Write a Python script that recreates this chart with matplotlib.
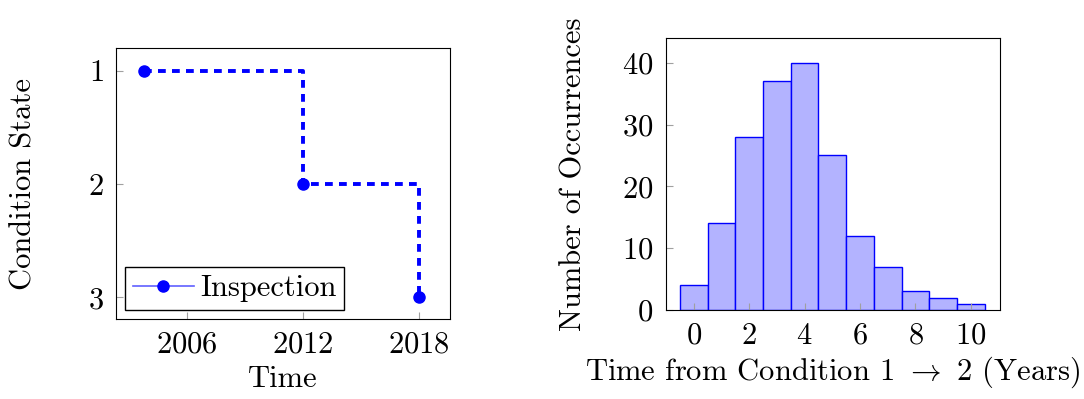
import matplotlib
matplotlib.use("Agg")
import matplotlib.pyplot as plt
from matplotlib.lines import Line2D

plt.rcParams["font.family"] = ["cmr10", "DejaVu Serif"]
plt.rcParams["mathtext.fontset"] = "cm"
plt.rcParams["axes.formatter.use_mathtext"] = True
plt.rcParams["font.size"] = 22

# ---- data ----
inspect_years = [2003.8, 2012, 2018]
inspect_states = [1, 2, 3]
year_ticks = [2006, 2012, 2018]
state_ticks = [1, 2, 3]

hist_bins = [0, 1, 2, 3, 4, 5, 6, 7, 8, 9, 10]
hist_counts = [4, 14, 28, 37, 40, 25, 12, 7, 3, 2, 1]

BLUE = "#0000ff"
TICK_GREY = "#a0a0a0"

fig = plt.figure(figsize=(10.84, 3.99), dpi=100)
W, H = 1084, 399
ax1 = fig.add_axes([116 / W, 1 - 319 / H, (450 - 116) / W, (319 - 48) / H])
ax2 = fig.add_axes([666 / W, 1 - 310 / H, (1000 - 666) / W, (310 - 38) / H])

# ---- left: inspection steps ----
ax1.plot(inspect_years, inspect_states, drawstyle="steps-post", color=BLUE,
         linestyle=(0, (2.0, 1.6)), linewidth=2.8)
ax1.plot(inspect_years, inspect_states, linestyle="none", marker="o",
         markersize=8, color=BLUE)
ax1.set_xlim(2002.33, 2019.6)
ax1.set_ylim(3.19, 0.8)
ax1.set_xticks(year_ticks)
ax1.set_yticks(state_ticks)
ax1.set_xlabel("Time", labelpad=5)
ax1.set_ylabel("Condition State", labelpad=36)
handle = Line2D([], [], color="#6060ff", linewidth=1.2, marker="o",
                markersize=8, markerfacecolor=BLUE, markeredgecolor=BLUE)
ax1.legend([handle], ["Inspection"], loc="lower left", fancybox=False,
           framealpha=1, edgecolor="black", borderaxespad=0.3,
           handlelength=2.0, handletextpad=0.2, borderpad=0.25)

# ---- right: histogram ----
ax2.bar(hist_bins, hist_counts, width=1.0, color="#b3b3ff", edgecolor=BLUE,
        linewidth=1.0)
ax2.set_xlim(-1.0, 11.05)
ax2.set_ylim(0, 44)
ax2.set_xticks([0, 2, 4, 6, 8, 10])
ax2.set_yticks([0, 10, 20, 30, 40])
ax2.set_xlabel(r"Time from Condition 1 $\rightarrow$ 2 (Years)", labelpad=3)
ax2.set_ylabel("Number of Occurrences", labelpad=25)

for ax in (ax1, ax2):
    ax.tick_params(direction="in", length=5, color=TICK_GREY, pad=9)
    for sp in ax.spines.values():
        sp.set_linewidth(0.8)

fig.savefig("out.png", dpi=100)
